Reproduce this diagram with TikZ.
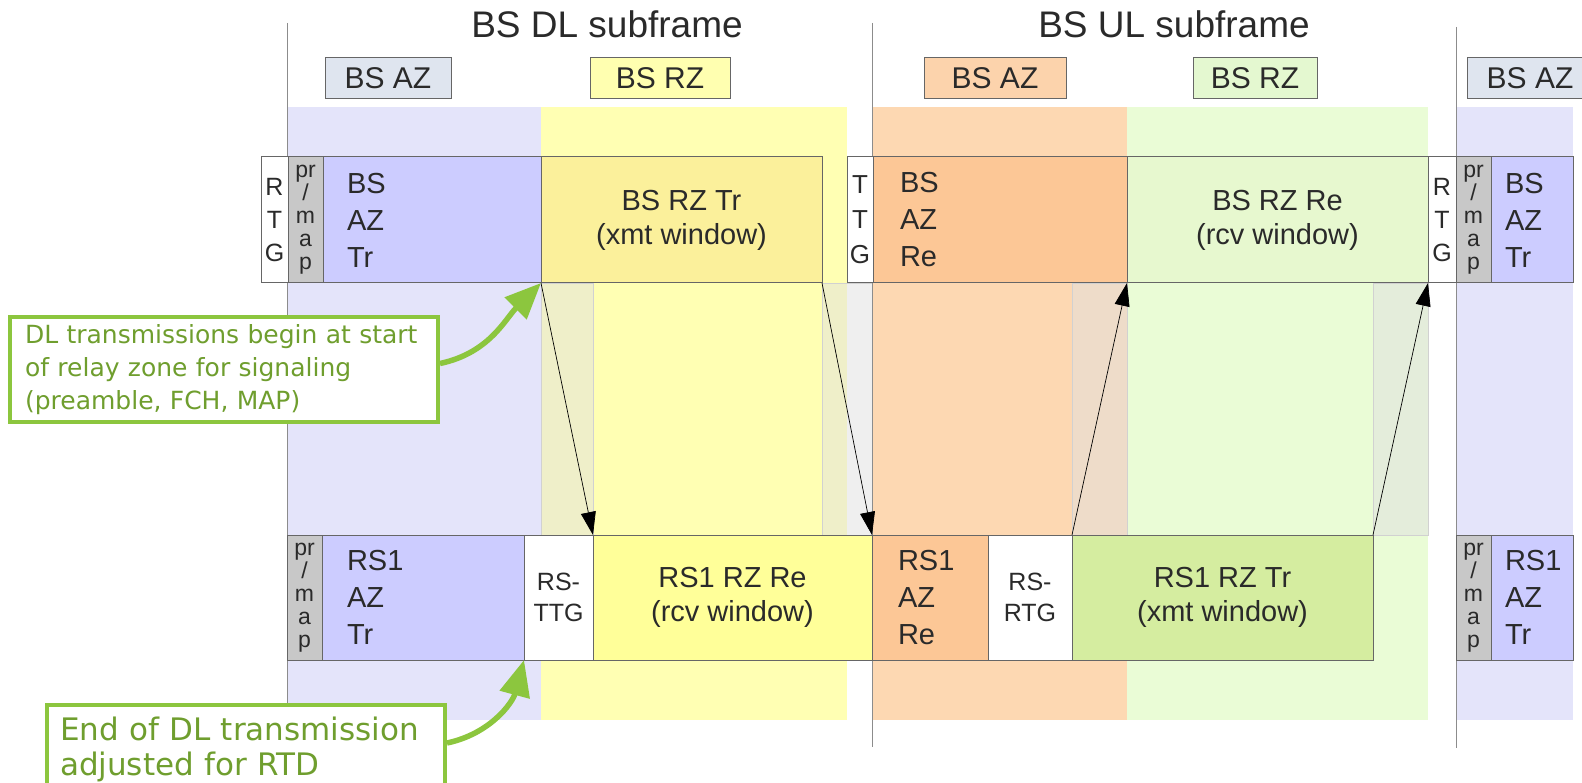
\documentclass[tikz,border=0pt]{standalone}
\usepackage{fontspec}
\setmainfont{Liberation Sans}
\newfontfamily\calloutfont{DejaVu Sans}
\usetikzlibrary{arrows.meta}

\definecolor{lavbg}{HTML}{E4E4FA}
\definecolor{lavbox}{HTML}{CCCCFF}
\definecolor{azlbl}{HTML}{DFE5EF}
\definecolor{yelbg}{HTML}{FFFFB3}
\definecolor{yelbox}{HTML}{FFFF99}
\definecolor{yeltop}{HTML}{FBF09B}
\definecolor{yellbl}{HTML}{FFFFB0}
\definecolor{orabg}{HTML}{FDD8B2}
\definecolor{orabox}{HTML}{FCC796}
\definecolor{oralbl}{HTML}{FCD3AC}
\definecolor{grnbg}{HTML}{EAFCD6}
\definecolor{grntop}{HTML}{E7F8CF}
\definecolor{grnbox}{HTML}{D5EDA0}
\definecolor{grnlbl}{HTML}{E4F8D0}
\definecolor{prmapfill}{HTML}{C8C8C8}
\definecolor{edgegray}{HTML}{666666}
\definecolor{ink}{HTML}{2A2A2A}
\definecolor{callline}{HTML}{8CC63E}
\definecolor{calltext}{HTML}{6F9E2E}

\tikzset{
  cell/.style={draw=edgegray, line width=1pt, inner sep=0pt, outer sep=0pt,
               anchor=north west, text=ink, align=center},
  toprow/.style={minimum height=126pt},
  botrow/.style={minimum height=125pt},
  stackfont/.style={font=\fontsize{29}{37}\selectfont},
  duofont/.style={font=\fontsize{29}{34}\selectfont},
  rtgfont/.style={font=\fontsize{25}{33}\selectfont},
  ttgfont/.style={font=\fontsize{26}{35}\selectfont},
  pmfont/.style={font=\fontsize{23}{23}\selectfont},
  rsgapfont/.style={font=\fontsize{25}{31}\selectfont},
  lbl/.style={draw=edgegray, line width=1pt, inner sep=0pt, minimum height=41pt,
              minimum width=126pt, font=\fontsize{30}{30}\selectfont, text=ink},
  head/.style={font=\fontsize{37}{37}\selectfont, text=ink, anchor=base},
  vline/.style={draw=gray!90, line width=1pt},
  band/.style={fill=black!12, fill opacity=0.5, draw=black!18, line width=0.6pt},
  sig/.style={draw=black, line width=0.7pt, -{Triangle[length=23pt,width=15pt]}},
  callbox/.style={draw=callline, line width=4pt, fill=white, anchor=north west,
                  align=left, text=calltext, inner ysep=0pt},
  callarrow/.style={draw=callline, line width=5.5pt, -{Triangle[length=36pt,width=30pt]}}
}

\begin{document}
\begin{tikzpicture}[x=1pt,y=-1pt]
\useasboundingbox (0,0) rectangle (1582,783);

% zone backgrounds
\fill[lavbg] (287,107) rectangle (541,720);
\fill[yelbg] (541,107) rectangle (847,720);
\fill[orabg] (873,107) rectangle (1127,720);
\fill[grnbg] (1127,107) rectangle (1428,720);
\fill[lavbg] (1456,107) rectangle (1573,720);

% propagation delay bands between the two rows
\filldraw[band] (541,283) rectangle (593,535);
\filldraw[band] (822,283) rectangle (872,535);
\filldraw[band] (1072,283) rectangle (1127,535);
\filldraw[band] (1373,283) rectangle (1428,535);

% subframe boundaries
\draw[vline] (287,23) -- (287,745);
\draw[vline] (872,23) -- (872,747);
\draw[vline] (1456,27) -- (1456,748);

% subframe headings
\node[head] (dlhead) at (607,38) {BS DL subframe};
\node[head] (ulhead) at (1174,38) {BS UL subframe};

% zone labels
\node[lbl, fill=azlbl] (lblaz1) at (388,78.5) {BS AZ};
\node[lbl, fill=yellbl, minimum width=140pt] (lblrz1) at (660,78.5) {BS RZ};
\node[lbl, fill=oralbl, minimum width=142pt] (lblaz2) at (995,78.5) {BS AZ};
\node[lbl, fill=grnlbl, minimum width=124pt] (lblrz2) at (1255,78.5) {BS RZ};
\node[lbl, fill=azlbl] (lblaz3) at (1530,78.5) {BS AZ};

% BS frame (top row)
\node[cell, toprow, fill=white, minimum width=27pt, rtgfont] (rtg1) at (261,157) {R\\T\\G};
\node[cell, toprow, fill=prmapfill, minimum width=35pt, pmfont] (pm1) at (288,157) {pr\\/\\m\\a\\p};
\node[cell, toprow, fill=lavbox, stackfont, align=left, inner xsep=24pt, text width=170pt] (bsaztr) at (323,157) {BS\\AZ\\Tr};
\node[cell, toprow, fill=yeltop, minimum width=281pt, duofont] (bsrztr) at (541,157) {BS RZ Tr\\(xmt window)};
\node[cell, toprow, fill=white, minimum width=26pt, ttgfont] (ttg) at (847,157) {T\\T\\G};
\node[cell, toprow, fill=orabox, stackfont, align=left, inner xsep=27pt, text width=200pt] (bsazre) at (873,157) {BS\\AZ\\Re};
\node[cell, toprow, fill=grntop, minimum width=301pt, duofont] (bsrzre) at (1127,157) {BS RZ Re\\(rcv window)};
\node[cell, toprow, fill=white, minimum width=28pt, rtgfont] (rtg2) at (1428,157) {R\\T\\G};
\node[cell, toprow, fill=prmapfill, minimum width=35pt, pmfont] (pm2) at (1456,157) {pr\\/\\m\\a\\p};
\node[cell, toprow, fill=lavbox, stackfont, align=left, inner xsep=14pt, text width=54pt] (bsaztr2) at (1491,157) {BS\\AZ\\Tr};

% RS1 frame (bottom row)
\node[cell, botrow, fill=prmapfill, minimum width=35pt, pmfont] (pm3) at (287,535) {pr\\/\\m\\a\\p};
\node[cell, botrow, fill=lavbox, stackfont, align=left, inner xsep=25pt, text width=152pt] (rsaztr) at (322,535) {RS1\\AZ\\Tr};
\node[cell, botrow, fill=white, minimum width=69pt, rsgapfont] (rsttg) at (524,535) {RS-\\TTG};
\node[cell, botrow, fill=yelbox, minimum width=279pt, duofont] (rsrzre) at (593,535) {RS1 RZ Re\\(rcv window)};
\node[cell, botrow, fill=orabox, stackfont, align=left, inner xsep=26pt, text width=64pt] (rsazre) at (872,535) {RS1\\AZ\\Re};
\node[cell, botrow, fill=white, minimum width=84pt, rsgapfont] (rsrtg) at (988,535) {RS-\\RTG};
\node[cell, botrow, fill=grnbox, minimum width=301pt, duofont] (rsrztr) at (1072,535) {RS1 RZ Tr\\(xmt window)};
\node[cell, botrow, fill=prmapfill, minimum width=35pt, pmfont] (pm4) at (1456,535) {pr\\/\\m\\a\\p};
\node[cell, botrow, fill=lavbox, stackfont, align=left, inner xsep=14pt, text width=54pt] (rsaztr2) at (1491,535) {RS1\\AZ\\Tr};

% relay-zone transmit/receive timing
\draw[sig] (bsrztr.south west) -- (rsrzre.north west);
\draw[sig] (bsrztr.south east) -- (rsrzre.north east);
\draw[sig] (rsrztr.north west) -- (bsrzre.south west);
\draw[sig] (rsrztr.north east) -- (bsrzre.south east);

% callouts
\node[callbox, inner xsep=15pt, text width=398pt, minimum height=105pt,
      font=\calloutfont\fontsize{25}{33}\selectfont] (note1) at (8,315)
  {DL transmissions begin at start\\of relay zone for signaling\\(preamble, FCH, MAP)};
\draw[callarrow] ([yshift=6pt]note1.east) to[out=12, in=225] (bsrztr.south west);

\node[callbox, inner xsep=13pt, text width=372pt, minimum height=88pt,
      font=\calloutfont\fontsize{31}{35}\selectfont] (note2) at (45,703)
  {End of DL transmission\\adjusted for RTD};
\draw[callarrow] ([yshift=6pt]note2.east) to[out=12, in=255] (rsaztr.south east);
\end{tikzpicture}
\end{document}
